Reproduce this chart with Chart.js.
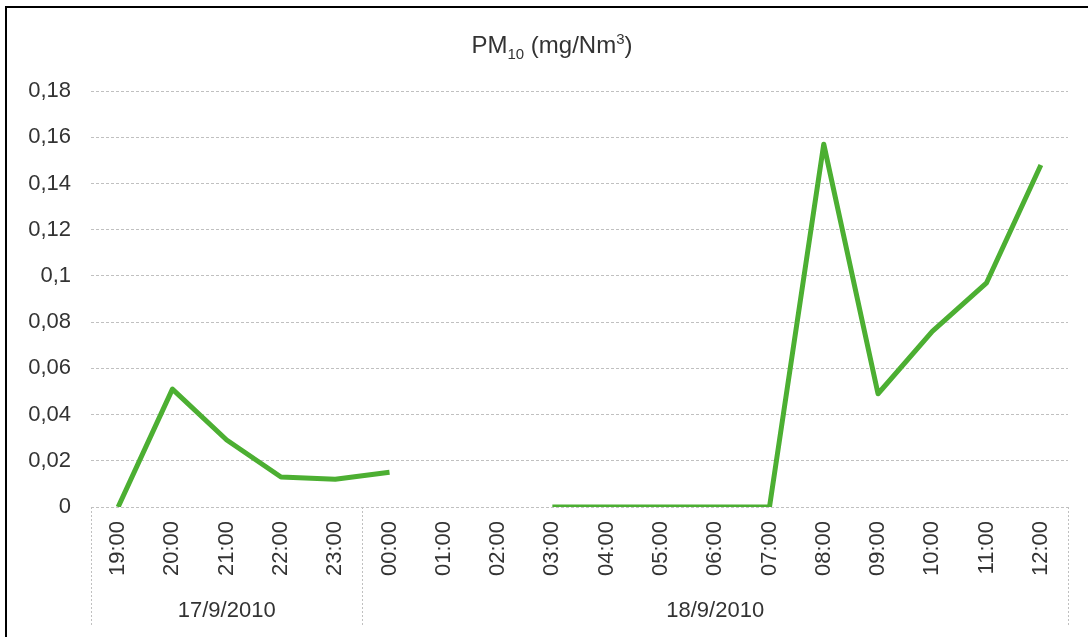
<!DOCTYPE html>
<html lang="pt">
<head>
<meta charset="utf-8">
<style>
    html, body { margin: 0; padding: 0; background: #fff; overflow: hidden; }
    #wrap { position: relative; width: 1088px; height: 637px; }
    #frame { position: absolute; left: 5px; top: 6px; width: 1100px; height: 700px; border: 2px solid #000; box-sizing: border-box; }
    #title { position: absolute; left: 0; width: 1104px; top: 30px; text-align: center;
             font-family: "Liberation Sans", Arial, sans-serif; font-size: 24px; color: #333; }
    #title sub, #title sup { font-size: 15px; }
    #myChart { position: absolute; left: 0; top: 0; }
</style>
</head>
<body>
<div id="wrap">
    <div id="frame"></div>
    <canvas id="myChart" width="1088" height="637"></canvas>
    <div id="title">PM<sub>10</sub> (mg/Nm<sup>3</sup>)</div>
</div>

<script src="https://cdn.jsdelivr.net/npm/chart.js"></script>
<script>
    const hours = ["19:00", "20:00", "21:00", "22:00", "23:00",
                   "00:00", "01:00", "02:00", "03:00", "04:00", "05:00", "06:00",
                   "07:00", "08:00", "09:00", "10:00", "11:00", "12:00"];
    const pm10 = [0, 0.051, 0.029, 0.013, 0.012,
                  0.015, null, null, 0, 0, 0, 0,
                  0, 0.157, 0.049, 0.076, 0.097, 0.148];
    const days = ["17/9/2010", "18/9/2010"];
    const dayCounts = [5, 13];

    const fontFamily = '"Liberation Sans", Arial, sans-serif';
    const textColor = '#333';

    // day labels under the hours, with dotted separators
    const dayGroups = {
        id: 'dayGroups',
        afterDraw(chart) {
            const ctx = chart.ctx;
            const x = chart.scales.x;
            const area = chart.chartArea;
            const half = (x.getPixelForValue(1) - x.getPixelForValue(0)) / 2;
            const bottom = 627;

            ctx.save();
            ctx.strokeStyle = '#c0c0c0';
            ctx.lineWidth = 1;
            ctx.setLineDash([2, 2]);

            let start = 0;
            const edges = [area.left];
            dayCounts.forEach(function (n) {
                start += n;
                edges.push(x.getPixelForValue(start - 1) + half);
            });
            edges.forEach(function (px) {
                px = Math.round(px) + 0.5;
                ctx.beginPath();
                ctx.moveTo(px, area.bottom);
                ctx.lineTo(px, bottom);
                ctx.stroke();
            });

            ctx.setLineDash([]);
            ctx.fillStyle = textColor;
            ctx.font = '22px ' + fontFamily;
            ctx.textAlign = 'center';
            ctx.textBaseline = 'middle';
            days.forEach(function (d, i) {
                ctx.fillText(d, (edges[i] + edges[i + 1]) / 2, 611);
            });
            ctx.restore();
        }
    };

    new Chart(document.getElementById('myChart'), {
        type: 'line',
        data: {
            labels: hours,
            datasets: [{
                label: 'PM10',
                data: pm10,
                borderColor: '#4caf32',
                borderWidth: 5,
                pointRadius: 0,
                spanGaps: false,
                tension: 0,
                borderJoinStyle: 'round'
            }]
        },
        options: {
            responsive: false,
            animation: false,
            layout: { padding: { top: 91, right: 20, left: 0, bottom: 0 } },
            plugins: {
                legend: { display: false },
                tooltip: { enabled: false },
                title: { display: false }
            },
            scales: {
                x: {
                    offset: true,
                    grid: { display: false, drawTicks: false, offset: true },
                    border: { display: false },
                    ticks: {
                        minRotation: 90,
                        maxRotation: 90,
                        autoSkip: false,
                        padding: 14,
                        color: textColor,
                        font: { family: fontFamily, size: 22 }
                    },
                    afterFit(scale) { scale.height = 130; }
                },
                y: {
                    min: 0,
                    max: 0.18,
                    grid: { color: '#c0c0c0', lineWidth: 1, drawTicks: false },
                    border: { display: false, dash: [3, 2] },
                    ticks: {
                        stepSize: 0.02,
                        padding: 20,
                        color: textColor,
                        font: { family: fontFamily, size: 22 },
                        callback: function (v) {
                            return String(Number(v.toFixed(2))).replace('.', ',');
                        }
                    },
                    afterFit(scale) { scale.width = 91; }
                }
            }
        },
        plugins: [dayGroups]
    });
</script>
</body>
</html>
